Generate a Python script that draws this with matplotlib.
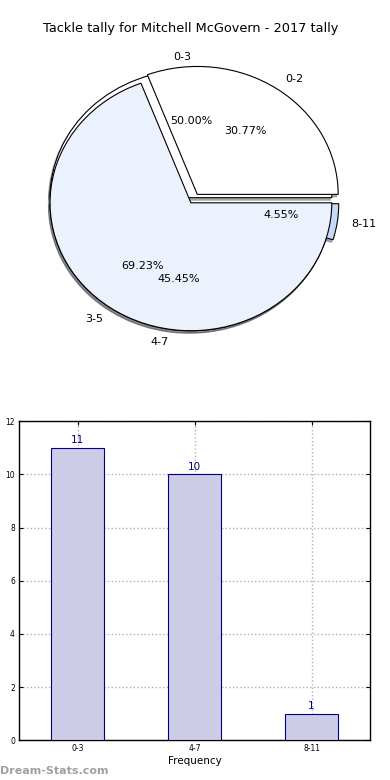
import matplotlib
matplotlib.use('Agg')
import matplotlib.pyplot as plt

# pie data: two tallies drawn over each other
outer_labels = ['0-3', '4-7', '8-11']
outer_values = [11, 10, 1]
inner_labels = ['0-2', '3-5']
inner_values = [4, 9]

# bar data
bar_labels = ['0-3', '4-7', '8-11']
bar_values = [11, 10, 1]

title = 'Tackle tally for Mitchell McGovern - 2017 tally'

fig = plt.figure(figsize=(3.9, 7.8), dpi=100)

# pie part
ax1 = fig.add_axes([0.038, 0.535, 0.903, 0.41])
edge = dict(edgecolor='black', linewidth=0.8)
shad = {'ox': -0.008, 'oy': -0.014, 'shade': 0.6}
ax1.pie(outer_values, labels=outer_labels, explode=(0.04, 0, 0.05),
        colors=['white', '#ebf1fd', '#c6d9fb'], autopct='%1.2f%%',
        shadow=shad, wedgeprops=edge, textprops={'fontsize': 8})
ax1.pie(inner_values, labels=inner_labels, explode=(0.08, 0),
        colors=['white', '#ebf1fd'], autopct='%1.2f%%',
        shadow=shad, wedgeprops=edge, textprops={'fontsize': 8})
ax1.set_aspect('auto')
ax1.set_xlim(-1.25, 1.25)
ax1.set_ylim(-1.25, 1.25)
ax1.set_title(title, fontsize=9.3, pad=8)

# bar part
ax2 = fig.add_axes([0.049, 0.051, 0.9, 0.409])
x = range(len(bar_values))
bars = ax2.bar(x, bar_values, width=0.45, color='#ccccE6',
               edgecolor='navy', linewidth=0.8, zorder=3)
for i, v in enumerate(bar_values):
    ax2.text(i, v + 0.1, str(v), ha='center', va='bottom',
             color='navy', fontsize=7.5, zorder=4)
ax2.set_xlim(-0.5, 2.5)
ax2.set_ylim(0, 12)
ax2.set_xticks(list(x))
ax2.set_xticklabels(bar_labels)
ax2.set_yticks(range(0, 13, 2))
ax2.tick_params(labelsize=5.5, direction='in', top=True, right=True,
                length=3, pad=3)
ax2.grid(True, linestyle=':', color='#b0b0b0', linewidth=1.0, zorder=0)
ax2.set_xlabel('Frequency', fontsize=7.5, labelpad=2)
ax2.set_ylabel('Distribution', fontsize=7.5)
ax2.yaxis.set_label_coords(-0.062, 0.5)
for s in ax2.spines.values():
    s.set_linewidth(1)

fig.text(0.0, 0.008, 'Dream-Stats.com', fontsize=8, color='#a0a0a0',
         fontweight='bold')

fig.savefig('out.png', dpi=100)
